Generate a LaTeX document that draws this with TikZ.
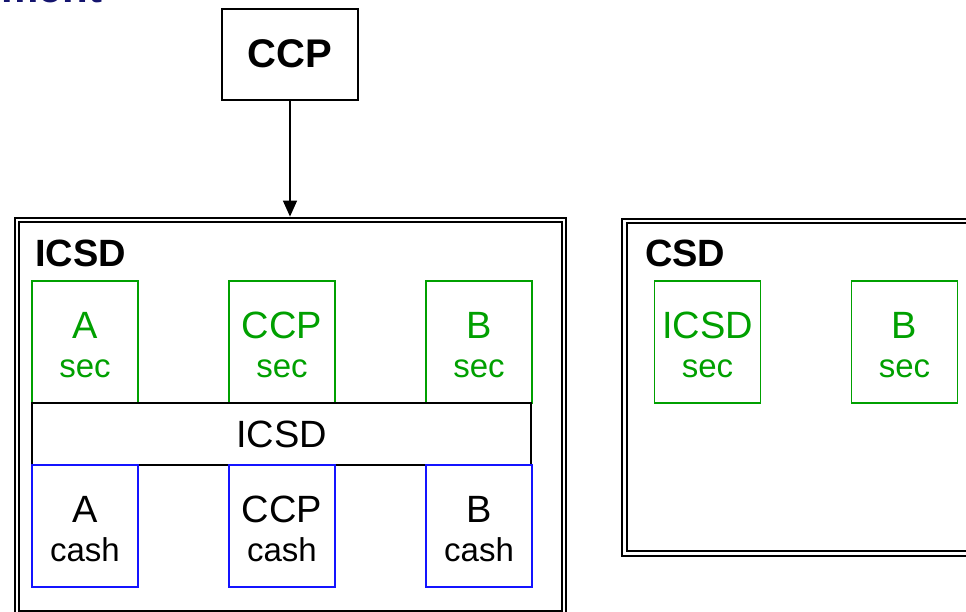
\documentclass[tikz,border=0pt]{standalone}
\usepackage{fontspec}
\setmainfont{Liberation Sans}
\usetikzlibrary{arrows.meta}
\definecolor{secgreen}{RGB}{0,160,0}
\definecolor{cashblue}{RGB}{20,20,255}
\definecolor{titlenavy}{RGB}{20,20,110}
\begin{document}
\begin{tikzpicture}[x=1pt,y=-1pt,
  every node/.style={inner sep=0pt,outer sep=0pt},
  dbox/.style={draw=black,line width=2pt,double=white,double distance=2.8pt},
  plainbox/.style={draw=black,line width=1.4pt},
  secbox/.style={draw=secgreen,line width=1.4pt,minimum width=106pt,minimum height=122pt},
  cashbox/.style={draw=cashblue,line width=1.4pt,minimum width=106pt,minimum height=122pt},
  boldlbl/.style={font=\fontsize{38}{40}\selectfont\bfseries,anchor=base west},
  bigt/.style={font=\fontsize{38}{40}\selectfont,anchor=base},
  smallt/.style={font=\fontsize{33}{35}\selectfont,anchor=base},
  arr/.style={line width=1.4pt,-{Triangle[width=14pt,length=16pt]}}
]
\useasboundingbox (0,0) rectangle (966,612);
\fill[white] (0,0) rectangle (966,612);

% title fragment
\node[font=\fontsize{42}{44}\selectfont\bfseries,text=titlenavy,anchor=base east] (title) at (102,2.2) {ment};

% CCP top box
\node[plainbox,minimum width=136pt,minimum height=91pt] (ccp) at (290,54.5) {};
\node[font=\fontsize{40}{42}\selectfont\bfseries,anchor=base] (ccpT) at (290,68) {CCP};

% ICSD outer box
\node[dbox,minimum width=547pt,minimum height=393pt] (icsd) at (290.5,416.5) {};
\node[boldlbl] (icsdT) at (35,267) {ICSD};

\draw[arr,shorten >=3.4pt] (ccp.south) -- (ccp.south |- icsd.north);

% sec boxes in ICSD
\node[secbox] (asec) at (85,342) {};
\node[bigt,text=secgreen] (asecA) at (85,338) {A};
\node[smallt,text=secgreen] (asecB) at (85,377) {sec};
\node[secbox] (ccpsec) at (282,342) {};
\node[bigt,text=secgreen] (ccpsecA) at (282,338) {CCP};
\node[smallt,text=secgreen] (ccpsecB) at (282,377) {sec};
\node[secbox] (bsec) at (479,342) {};
\node[bigt,text=secgreen] (bsecA) at (479,338) {B};
\node[smallt,text=secgreen] (bsecB) at (479,377) {sec};

% ICSD bar
\node[plainbox,minimum width=499pt,minimum height=62pt] (bar) at (281.5,434) {};
\node[bigt] (barT) at (281.5,447.5) {ICSD};

% cash boxes
\node[cashbox] (acash) at (85,526) {};
\node[bigt] (acashA) at (85,522) {A};
\node[smallt] (acashB) at (85,561.5) {cash};
\node[cashbox] (ccpcash) at (282,526) {};
\node[bigt] (ccpcashA) at (282,522) {CCP};
\node[smallt] (ccpcashB) at (282,561.5) {cash};
\node[cashbox] (bcash) at (479,526) {};
\node[bigt] (bcashA) at (479,522) {B};
\node[smallt] (bcashB) at (479,561.5) {cash};

% CSD box
\node[dbox,minimum width=375.5pt,minimum height=332.5pt] (csd) at (812.25,387.25) {};
\node[boldlbl] (csdT) at (645,267) {CSD};
\node[secbox] (icsdsec) at (707.5,342) {};
\node[bigt,text=secgreen] (icsdsecA) at (707.5,338) {ICSD};
\node[smallt,text=secgreen] (icsdsecB) at (707.5,377) {sec};
\node[secbox] (bsec2) at (904.5,342) {};
\node[bigt,text=secgreen] (bsec2A) at (904.5,338) {B};
\node[smallt,text=secgreen] (bsec2B) at (904.5,377) {sec};
\end{tikzpicture}
\end{document}
